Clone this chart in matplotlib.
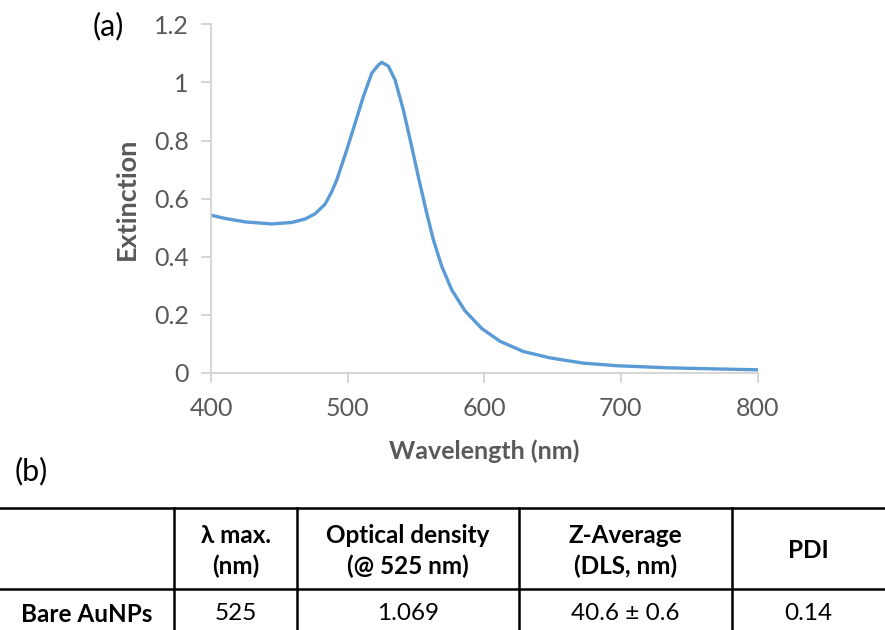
import matplotlib
matplotlib.use("Agg")
import matplotlib.pyplot as plt
from matplotlib.lines import Line2D

plt.rcParams['font.family'] = ['Lato', 'DejaVu Sans']

# Spectrum
wavelength = [400, 410.3, 425, 444.5, 459.1, 468.9, 476.2, 483.5, 488.4, 492.1,
              499.4, 505.5, 511.5, 517.7, 522.5, 525, 529.8, 534.7, 540.8, 546.9,
              552, 557.9, 562.8, 568.9, 576.2, 585.9, 598.2, 611.6, 628.6, 648.2,
              672.5, 697, 733.6, 770.1, 800]
extinction = [0.543, 0.532, 0.520, 0.513, 0.518, 0.530, 0.548, 0.581, 0.624, 0.665,
              0.768, 0.860, 0.951, 1.032, 1.060, 1.069, 1.056, 1.009, 0.905, 0.779,
              0.670, 0.550, 0.458, 0.367, 0.286, 0.214, 0.153, 0.109, 0.074, 0.052,
              0.034, 0.025, 0.018, 0.014, 0.011]

x_ticks = [400, 500, 600, 700, 800]
y_ticks = [0, 0.2, 0.4, 0.6, 0.8, 1.0, 1.2]
y_tick_labels = ['0', '0.2', '0.4', '0.6', '0.8', '1', '1.2']

# Table
col_headers = ['', 'λ max.\n(nm)', 'Optical density\n(@ 525 nm)', 'Z-Average\n(DLS, nm)', 'PDI']
row_values = ['Bare AuNPs', '525', '1.069', '40.6 ± 0.6', '0.14']

W, H = 885, 630
fig = plt.figure(figsize=(W / 100, H / 100), dpi=100)

def fx(px):
    return px / W

def fy(py):
    return 1 - py / H

ax_l, ax_r, ax_t, ax_b = 211, 757.5, 24.3, 373
ax = fig.add_axes([fx(ax_l), fy(ax_b), fx(ax_r) - fx(ax_l), fy(ax_t) - fy(ax_b)])
ax.plot(wavelength, extinction, color='#5B9BD5', lw=2.4, solid_capstyle='round',
        solid_joinstyle='round')
ax.set_xlim(400, 800)
ax.set_ylim(0, 1.2)
ax.set_xticks(x_ticks)
ax.set_yticks(y_ticks)
ax.set_yticklabels(y_tick_labels)
for s in ['top', 'right']:
    ax.spines[s].set_visible(False)
for s in ['left', 'bottom']:
    ax.spines[s].set_color('#d0d0d0')
    ax.spines[s].set_linewidth(1.2)
ax.tick_params(axis='both', direction='out', length=7, width=1.2, color='#d0d0d0',
               labelcolor='#595959', labelsize=18)
ax.tick_params(axis='y', pad=9)
ax.tick_params(axis='x', pad=10)
ax.set_ylabel('Extinction', fontsize=19.5, fontweight='bold', color='#595959', labelpad=11)
ax.set_xlabel('Wavelength (nm)', fontsize=18, fontweight='bold', color='#595959', labelpad=14)

fig.text(fx(108), fy(26), '(a)', fontsize=22, color='black', ha='center', va='center')
fig.text(fx(31), fy(471), '(b)', fontsize=22, color='black', ha='center', va='center')

# Table lines
lw = 1.8
for y in [508, 589]:
    fig.add_artist(Line2D([0, 1], [fy(y), fy(y)], color='black', lw=lw, transform=fig.transFigure))
col_edges = [0, 174, 297, 519, 732, 885]
for x in col_edges[1:-1]:
    fig.add_artist(Line2D([fx(x), fx(x)], [fy(508), 0], color='black', lw=lw, transform=fig.transFigure))

for i, txt in enumerate(col_headers):
    cx = (col_edges[i] + col_edges[i + 1]) / 2
    fig.text(fx(cx), fy(551), txt, fontsize=17.5, fontweight='bold', color='black',
             ha='center', va='center', linespacing=1.4)
for i, txt in enumerate(row_values):
    cx = (col_edges[i] + col_edges[i + 1]) / 2
    fig.text(fx(cx), fy(614), txt, fontsize=17.5, fontweight='bold' if i == 0 else 'normal',
             color='black', ha='center', va='center')

fig.savefig('out.png', dpi=100, facecolor='white')
